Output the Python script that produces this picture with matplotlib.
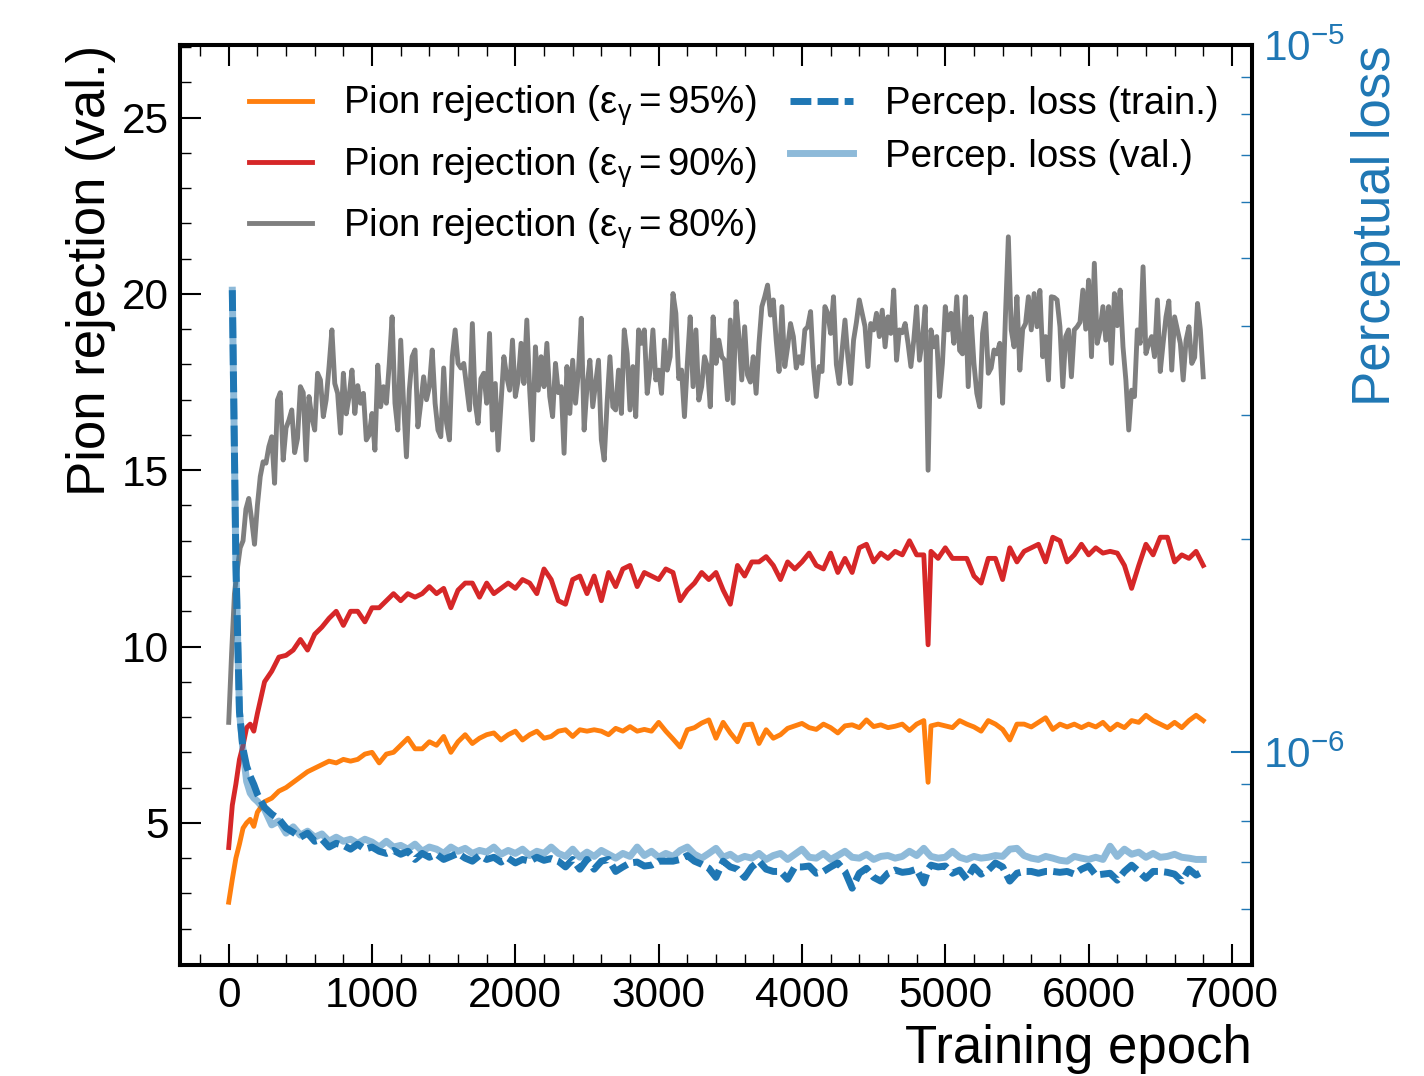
import matplotlib
matplotlib.use("Agg")
import matplotlib.pyplot as plt
import numpy as np
from matplotlib.ticker import MultipleLocator, LogLocator, NullFormatter

plt.rcParams["font.family"] = ["Liberation Sans", "DejaVu Sans"]
plt.rcParams["mathtext.fontset"] = "custom"
plt.rcParams["mathtext.rm"] = "Liberation Sans"
plt.rcParams["mathtext.it"] = "Liberation Sans:italic"
plt.rcParams["mathtext.bf"] = "Liberation Sans:bold"

AZUL = "#1f77b4"

# epocas amostradas (mais fino no inicio, ponto extra na queda perto de 4880)
EPOCHS = np.r_[0:200:25, 200:4900:50, 4880, 4900:6801:50]
# a curva de 80% e mais ruidosa, lida a cada 20 epocas
EPOCHS_80 = np.arange(0, 6801, 20)

REJ_95 = [
    2.75, 3.4, 4.0, 4.4, 4.85, 5.0, 5.1, 4.9,
    5.3, 5.6, 5.7, 5.9, 6.0, 6.15, 6.3, 6.45, 6.55, 6.65,
    6.75, 6.7, 6.8, 6.75, 6.8, 6.95, 7.0, 6.7, 6.95, 7.0,
    7.2, 7.4, 7.1, 7.1, 7.3, 7.2, 7.45, 7.0, 7.3, 7.5,
    7.25, 7.4, 7.5, 7.55, 7.35, 7.5, 7.6, 7.35, 7.5, 7.6,
    7.4, 7.45, 7.6, 7.64, 7.45, 7.64, 7.6, 7.64, 7.6, 7.5,
    7.68, 7.6, 7.73, 7.6, 7.65, 7.6, 7.85, 7.6, 7.38, 7.15,
    7.64, 7.7, 7.83, 7.92, 7.4, 7.85, 7.55, 7.3, 7.78, 7.8,
    7.25, 7.64, 7.4, 7.5, 7.68, 7.75, 7.82, 7.7, 7.65, 7.8,
    7.7, 7.55, 7.75, 7.78, 7.7, 7.92, 7.73, 7.78, 7.7, 7.74,
    7.8, 7.62, 7.8, 7.9, 6.15,
    7.75, 7.8, 7.75, 7.7, 7.9, 7.8, 7.72, 7.6, 7.9, 7.8,
    7.65, 7.35, 7.8, 7.8, 7.72, 7.85, 7.98, 7.65, 7.8, 7.72,
    7.8, 7.7, 7.8, 7.72, 7.85, 7.64, 7.8, 7.7, 7.9, 7.85,
    8.05, 7.9, 7.8, 7.7, 7.85, 7.7, 7.9, 8.05, 7.9,
]

REJ_90 = [
    4.3, 5.5, 6.1, 6.8, 7.2, 7.7, 7.8, 7.6,
    8.1, 9.0, 9.3, 9.7, 9.75, 9.9, 10.2, 9.9, 10.35, 10.55,
    10.8, 11.0, 10.6, 11.0, 11.0, 10.7, 11.1, 11.1, 11.3, 11.5,
    11.3, 11.5, 11.4, 11.5, 11.7, 11.5, 11.65, 11.1, 11.6, 11.8,
    11.8, 11.4, 11.8, 11.5, 11.65, 11.8, 11.65, 11.9, 11.8, 11.5,
    12.2, 11.9, 11.3, 11.2, 11.9, 12.0, 11.5, 12.0, 11.3, 12.1,
    11.7, 12.2, 12.3, 11.7, 12.1, 12.0, 11.9, 12.2, 12.1, 11.3,
    11.6, 11.8, 12.1, 11.9, 12.1, 11.6, 11.2, 12.3, 12.0, 12.4,
    12.4, 12.55, 12.3, 11.9, 12.4, 12.2, 12.4, 12.65, 12.3, 12.2,
    12.65, 12.1, 12.5, 12.1, 12.8, 12.9, 12.4, 12.65, 12.5, 12.7,
    12.6, 13.0, 12.6, 12.6, 10.05,
    12.7, 12.5, 12.8, 12.5, 12.5, 12.5, 12.0, 11.8, 12.5, 12.5,
    11.9, 12.8, 12.4, 12.7, 12.8, 12.9, 12.4, 13.1, 13.0, 12.4,
    12.6, 12.9, 12.6, 12.8, 12.65, 12.7, 12.65, 12.3, 11.65, 12.3,
    12.9, 12.6, 13.1, 13.1, 12.4, 12.6, 12.5, 12.7, 12.3,
]

REJ_80 = [
    7.85, 9.8, 11.5, 12.2, 12.8, 13.0, 13.9, 14.2, 13.6, 12.9,
    14.0, 14.82, 15.24, 15.2, 15.67, 15.95, 14.63, 16.99, 17.2, 15.29,
    16.2, 16.42, 16.71, 15.5, 15.9, 17.37, 17.2, 15.29, 17.09, 16.5,
    16.14, 17.75, 17.56, 16.52, 17.0, 17.94, 18.98, 17.46, 17.18, 16.05,
    17.75, 16.6, 17.09, 17.84, 16.61, 17.4, 16.9, 17.18, 15.86, 16.0,
    16.61, 15.57, 17.98, 16.8, 17.37, 16.9, 18.0, 19.35, 16.9, 16.14,
    18.69, 16.9, 15.38, 17.27, 18.22, 18.41, 16.23, 16.9, 17.65, 17.0,
    17.37, 18.41, 16.9, 16.14, 15.95, 17.9, 16.33, 15.86, 18.22, 18.98,
    18.03, 17.9, 18.03, 17.37, 16.71, 19.16, 16.9, 16.33, 17.6, 17.75,
    16.9, 18.88, 16.14, 17.46, 15.57, 16.9, 18.22, 17.65, 17.27, 18.69,
    17.09, 17.56, 18.6, 17.46, 19.26, 17.27, 15.86, 18.5, 17.27, 18.22,
    17.37, 18.6, 17.09, 16.52, 18.03, 17.2, 17.37, 15.48, 17.94, 16.61,
    18.12, 16.9, 17.8, 19.31, 16.14, 17.37, 18.12, 16.8, 17.46, 18.12,
    15.86, 15.29, 16.9, 18.22, 16.8, 16.71, 17.84, 16.61, 18.98, 18.3,
    16.71, 17.94, 16.52, 18.98, 18.6, 18.98, 17.18, 17.84, 18.98, 17.56,
    17.84, 17.18, 18.69, 17.84, 18.22, 20.01, 19.45, 17.6, 17.84, 16.52,
    18.03, 19.35, 17.37, 18.98, 16.99, 17.37, 18.22, 17.94, 16.8, 19.35,
    18.03, 18.69, 18.22, 18.12, 17.0, 19.26, 16.9, 19.78, 18.79, 17.56,
    19.07, 17.7, 17.5, 18.22, 17.18, 18.6, 19.64, 19.92, 20.25, 19.4,
    19.83, 18.69, 17.8, 19.64, 17.94, 18.5, 19.16, 18.79, 17.9, 18.22,
    18.03, 18.98, 19.07, 19.5, 17.94, 17.09, 17.94, 17.8, 19.64, 19.45,
    18.88, 19.92, 18.0, 17.46, 18.4, 19.26, 18.22, 17.46, 18.69, 19.2,
    19.83, 19.45, 19.07, 17.94, 19.16, 18.98, 19.45, 18.79, 19.54, 18.5,
    19.35, 18.88, 20.11, 18.12, 18.98, 18.9, 19.16, 18.6, 17.94, 18.69,
    19.64, 18.12, 18.7, 19.64, 15.0, 18.98, 18.5, 18.79, 17.09, 18.03,
    19.64, 18.98, 19.45, 18.6, 19.92, 18.4, 18.3, 19.92, 17.37, 19.35,
    18.03, 17.18, 16.8, 18.88, 19.45, 17.75, 17.9, 18.41, 18.3, 18.6,
    16.9, 19.4, 21.62, 18.98, 18.5, 19.92, 17.84, 19.0, 19.16, 19.92,
    18.98, 20.01, 19.07, 20.1, 18.22, 18.79, 17.56, 19.92, 19.9, 19.83,
    19.07, 17.37, 18.79, 18.98, 17.65, 18.98, 19.07, 19.2, 20.11, 19.0,
    20.39, 18.22, 20.87, 18.6, 18.98, 19.64, 18.69, 19.64, 18.03, 20.01,
    19.1, 20.11, 18.5, 17.56, 16.14, 17.27, 17.09, 18.98, 18.6, 20.77,
    18.31, 18.6, 18.79, 18.22, 19.83, 17.8, 18.6, 19.35, 19.8, 17.84,
    19.35, 18.98, 18.6, 17.56, 18.69, 19.07, 18.03, 18.2, 19.73, 18.98,
    17.65,
]

# perda perceptual em unidades de 1e-7
LOSS_TREINO = [
    np.nan, 45.0, 18.6, 11.4, 10.1, 9.55, 9.24, 9.0,
    8.72, 8.35, 8.17, 8.04, 7.81, 7.70, 7.58, 7.68, 7.48, 7.53,
    7.34, 7.43, 7.38, 7.29, 7.41, 7.29, 7.34, 7.24, 7.19, 7.26,
    7.17, 7.24, 7.05, 7.19, 7.10, 7.17, 7.05, 7.12, 7.19, 7.08,
    7.01, 7.14, 7.05, 7.10, 6.99, 7.08, 6.97, 7.05, 7.01, 7.10,
    7.03, 7.07, 7.01, 6.88, 7.05, 6.83, 7.05, 6.83, 7.01, 7.05,
    6.78, 6.88, 6.97, 6.99, 6.90, 6.92, 7.01, 7.01, 7.01, 7.05,
    7.14, 7.01, 6.94, 6.85, 6.65, 7.01, 6.88, 6.83, 6.65, 6.88,
    7.01, 6.83, 6.78, 6.78, 6.61, 6.88, 6.88, 6.90, 6.74, 6.78,
    6.88, 6.97, 6.78, 6.42, 6.74, 6.85, 6.65, 6.57, 6.74, 6.81,
    6.76, 6.78, 6.83, 6.53, 6.83,
    6.92, 6.88, 6.90, 6.74, 6.81, 6.61, 6.88, 6.72, 6.81, 6.97,
    6.88, 6.57, 6.74, 6.78, 6.78, 6.74, 6.78, 6.78, 6.76, 6.78,
    6.72, 6.83, 6.90, 6.70, 6.72, 6.74, 6.59, 6.78, 6.92, 6.78,
    6.63, 6.78, 6.78, 6.76, 6.72, 6.57, 6.83, 6.70, 6.78,
]

LOSS_VAL = [
    np.nan, 45.0, 18.3, 11.4, 10.03, 9.09, 8.75, 8.61,
    8.52, 8.30, 7.89, 7.99, 7.68, 7.84, 7.63, 7.73, 7.58, 7.66,
    7.48, 7.58, 7.48, 7.53, 7.43, 7.53, 7.46, 7.34, 7.48, 7.34,
    7.38, 7.29, 7.41, 7.24, 7.34, 7.29, 7.19, 7.34, 7.24, 7.31,
    7.19, 7.26, 7.22, 7.34, 7.17, 7.26, 7.19, 7.29, 7.14, 7.24,
    7.19, 7.34, 7.19, 7.12, 7.29, 7.10, 7.22, 7.12, 7.26, 7.17,
    7.08, 7.19, 7.12, 7.34, 7.14, 7.24, 7.10, 7.19, 7.12, 7.26,
    7.34, 7.17, 7.08, 7.19, 7.31, 7.10, 7.17, 7.05, 7.12, 7.08,
    7.19, 7.05, 7.14, 7.19, 7.05, 7.17, 7.29, 7.10, 7.08, 7.19,
    7.05, 7.14, 7.24, 7.10, 7.08, 7.17, 7.05, 7.12, 7.14, 7.08,
    7.12, 7.24, 7.14, 7.31, 7.19,
    7.12, 7.08, 7.10, 7.24, 7.10, 7.05, 7.12, 7.08, 7.10, 7.14,
    7.12, 7.29, 7.31, 7.14, 7.08, 7.05, 7.12, 7.08, 7.03, 7.01,
    7.12, 7.08, 7.05, 7.10, 7.05, 7.36, 7.12, 7.29, 7.17, 7.22,
    7.10, 7.19, 7.10, 7.12, 7.17, 7.10, 7.08, 7.05, 7.05,
]

ROTULOS = [
    r"Pion rejection ($\mathregular{\varepsilon_{\gamma} = 95\%}$)",
    r"Pion rejection ($\mathregular{\varepsilon_{\gamma} = 90\%}$)",
    r"Pion rejection ($\mathregular{\varepsilon_{\gamma} = 80\%}$)",
    "Percep. loss (train.)",
    "Percep. loss (val.)",
]

fig = plt.figure(figsize=(14.24, 10.76), dpi=100)
ax = fig.add_axes([0.1264, 0.1032, 0.7528, 0.8550])
ax2 = ax.twinx()

l80, = ax.plot(EPOCHS_80, REJ_80, color="#7f7f7f", lw=3.5)
l90, = ax.plot(EPOCHS, REJ_90, color="#d62728", lw=3.5)
l95, = ax.plot(EPOCHS, REJ_95, color="#ff7f0e", lw=3.5)

treino = np.array(LOSS_TREINO) * 1e-7
val = np.array(LOSS_VAL) * 1e-7
lt, = ax2.plot(EPOCHS, treino, color=AZUL, lw=5, ls=(0, (3.0, 0.9)))
lv, = ax2.plot(EPOCHS, val, color=AZUL, lw=5, alpha=0.5)

ax.set_xlim(-340, 7140)
ax.set_ylim(0.97, 27.06)
ax2.set_yscale("log")
ax2.set_ylim(5e-7, 1e-5)

ax.xaxis.set_major_locator(MultipleLocator(1000))
ax.xaxis.set_minor_locator(MultipleLocator(200))
ax.yaxis.set_major_locator(MultipleLocator(5))
ax.yaxis.set_minor_locator(MultipleLocator(1))
ax2.yaxis.set_major_locator(LogLocator(base=10))
ax2.yaxis.set_minor_locator(LogLocator(base=10, subs=np.arange(2, 10)))
ax2.yaxis.set_minor_formatter(NullFormatter())

ax.tick_params(axis="both", which="both", direction="in", labelsize=30.5, pad=8)
ax.tick_params(axis="x", which="both", top=True, bottom=True)
ax.tick_params(axis="y", which="both", left=True, right=False)
ax.tick_params(which="major", length=15, width=1.5)
ax.tick_params(which="minor", length=8, width=1.0)
ax2.tick_params(axis="y", which="both", direction="in", colors=AZUL, labelsize=30.5, pad=8)
ax2.tick_params(which="major", length=15, width=1.5)
ax2.tick_params(which="minor", length=8, width=1.0)

for a in (ax, ax2):
    for spine in a.spines.values():
        spine.set_linewidth(2.9)
        spine.set_color("black")

ax.set_xlabel("Training epoch", fontsize=38, loc="right", labelpad=6)
ax.set_ylabel("Pion rejection (val.)", fontsize=38, loc="top")
ax2.set_ylabel("Perceptual loss", fontsize=38, loc="top", color=AZUL)

ax2.legend(
    [l95, l90, l80, lt, lv],
    ROTULOS,
    ncol=2,
    loc="upper left",
    bbox_to_anchor=(0.0644, 0.958),
    frameon=False,
    fontsize=27.7,
    borderpad=0,
    borderaxespad=0,
    handlelength=1.63,
    handletextpad=0.82,
    columnspacing=0.87,
    labelspacing=0.43,
)

plt.savefig("out.png", dpi=100)
